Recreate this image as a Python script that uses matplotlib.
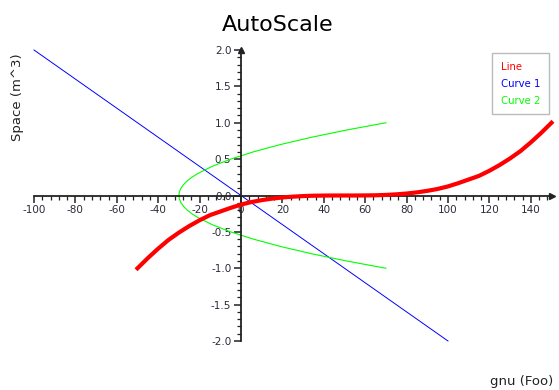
import matplotlib
matplotlib.use("Agg")
import matplotlib.pyplot as plt
from matplotlib.ticker import MultipleLocator

# Data
line_x = [-50, -45, -40, -35, -30, -25, -20, -15, -10, -5, 0, 5, 10, 15, 20, 25, 30, 35, 40, 45, 50,
          55, 60, 65, 70, 75, 80, 85, 90, 95, 100, 105, 110, 115, 120, 125, 130, 135, 140, 145, 150]
line_y = [-1.0, -0.86, -0.73, -0.61, -0.51, -0.42, -0.34, -0.27, -0.22, -0.17, -0.125,
          -0.09, -0.064, -0.043, -0.027, -0.016, -0.008, -0.003, -0.001, 0.0, 0.0,
          0.0, 0.001, 0.003, 0.008, 0.016, 0.027, 0.043, 0.064, 0.09, 0.125,
          0.17, 0.22, 0.27, 0.34, 0.42, 0.51, 0.61, 0.73, 0.86, 1.0]

curve1_x = [-100, 100]
curve1_y = [2.0, -2.0]

curve2_y = [-1.0, -0.9, -0.8, -0.7, -0.6, -0.5, -0.4, -0.3, -0.25, -0.2, -0.15, -0.1, -0.05, 0.0,
            0.05, 0.1, 0.15, 0.2, 0.25, 0.3, 0.4, 0.5, 0.6, 0.7, 0.8, 0.9, 1.0]
curve2_x = [70, 51, 34, 19, 6, -5, -14, -21, -23.75, -26, -27.75, -29, -29.75, -30,
            -29.75, -29, -27.75, -26, -23.75, -21, -14, -5, 6, 19, 34, 51, 70]

W, H = 559, 390
fig = plt.figure(figsize=(W / 100, H / 100), dpi=100)
fig.patch.set_facecolor("white")

left, right, top, bottom = 34, 551.5, 50, 341
ax = fig.add_axes([left / W, 1 - bottom / H, (right - left) / W, (bottom - top) / H])
ax.set_xlim(-100, 150)
ax.set_ylim(-2, 2)

axcol = "#222222"
ax.spines["left"].set_position(("data", 0))
ax.spines["bottom"].set_position(("data", 0))
ax.spines["top"].set_visible(False)
ax.spines["right"].set_visible(False)
for s in ("left", "bottom"):
    ax.spines[s].set_color(axcol)
    ax.spines[s].set_linewidth(1.3)

ax.xaxis.set_major_locator(MultipleLocator(20))
ax.xaxis.set_minor_locator(MultipleLocator(4))
ax.yaxis.set_major_locator(MultipleLocator(0.5))
ax.yaxis.set_minor_locator(MultipleLocator(0.1))
ax.xaxis.set_major_formatter(plt.FuncFormatter(lambda v, p: f"{v:.0f}"))
ax.yaxis.set_major_formatter(plt.FuncFormatter(lambda v, p: f"{v:.1f}"))
ax.tick_params(which="major", direction="out", length=5, width=1.1, color=axcol,
               labelsize=7.5, labelcolor="#2a2a3a", pad=2)
ax.tick_params(which="minor", direction="out", length=3, width=0.9, color=axcol)
ax.patch.set_alpha(0)

# arrows
ax.plot(1, 0, ">", color=axcol, markersize=4, transform=ax.get_yaxis_transform(), clip_on=False)
ax.plot(0, 1, "^", color=axcol, markersize=4, transform=ax.get_xaxis_transform(), clip_on=False)

ax.plot(line_x, line_y, color="#ff0000", linewidth=3.0, label="Line", clip_on=False, zorder=3)
ax.plot(curve1_x, curve1_y, color="#0000ff", linewidth=0.7, label="Curve 1", clip_on=False, zorder=2)
ax.plot(curve2_x, curve2_y, color="#00ff00", linewidth=0.8, label="Curve 2", clip_on=False, zorder=2)

leg = fig.legend(handles=ax.get_lines()[2:], labels=["Line", "Curve 1", "Curve 2"],
                 loc="upper right", bbox_to_anchor=(549 / W, 1 - 53 / H),
                 handlelength=0, handletextpad=0, labelcolor="linecolor",
                 fontsize=7.3, frameon=True, fancybox=False, labelspacing=0.7,
                 borderpad=0.85, borderaxespad=0)
leg.get_frame().set_edgecolor("#aaaaaa")
leg.get_frame().set_linewidth(1.0)
for h in leg.legend_handles:
    h.set_visible(False)

fig.text(278 / W, 1 - 25 / H, "AutoScale", ha="center", va="center", fontsize=16, color="black")
fig.text(18 / W, 1 - 97 / H, "Space (m^3)", ha="center", va="center", rotation=90,
         fontsize=9.5, color="#222222")
fig.text(553 / W, 1 - 382 / H, "gnu (Foo)", ha="right", va="center", fontsize=9.5, color="#222222")

fig.savefig("out.png", dpi=100)
